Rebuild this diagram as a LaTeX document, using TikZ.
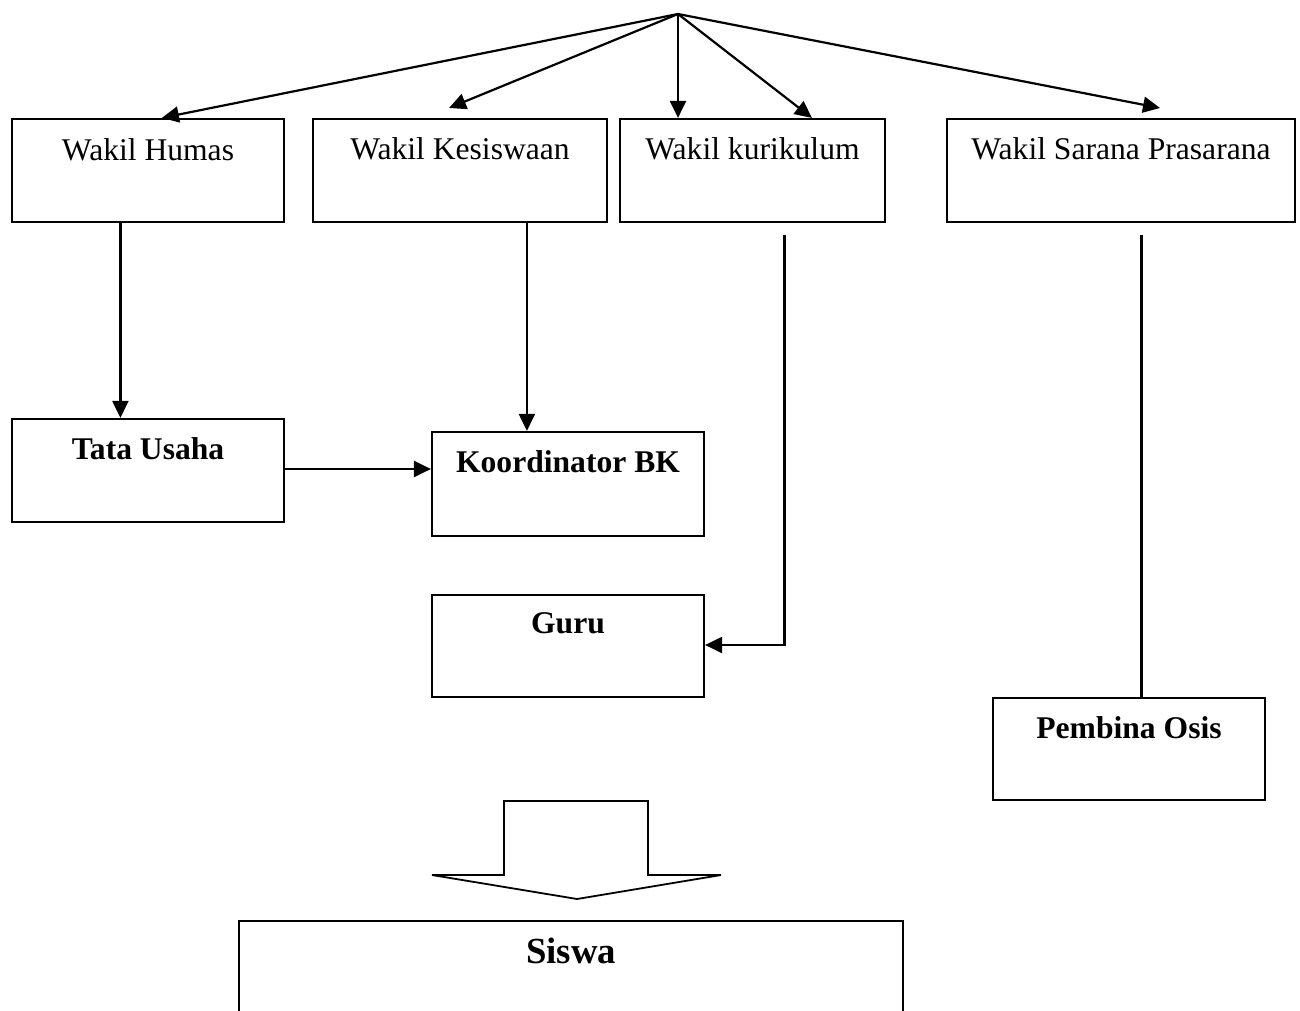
\documentclass[tikz,border=0pt]{standalone}
\usepackage{fontspec}
\setmainfont{Liberation Serif}
\usetikzlibrary{calc,arrows.meta}

\begin{document}
\begin{tikzpicture}[
  x=0.5pt, y=-0.5pt,
  line width=1.1pt,
  box/.style={draw, rectangle, inner sep=0pt, line width=1.1pt},
  lbl/.style={anchor=base, inner sep=0pt, font=\fontsize{15.8pt}{18pt}\selectfont},
  blbl/.style={lbl, font=\fontsize{15.8pt}{18pt}\selectfont\bfseries},
  arr/.style={-{Triangle[length=8.5pt,width=8pt]}},
]
\useasboundingbox (0,0) rectangle (1300,1011);
\clip (0,0) rectangle (1300,1011);

% --- top row: the four deputies
\node[box, minimum width=136pt, minimum height=51.5pt] (humas)  at (148,170.5)  {};
\node[box, minimum width=147pt, minimum height=51.5pt] (kesis)  at (460,170.5)  {};
\node[box, minimum width=132.5pt, minimum height=51.5pt] (kurik) at (752.5,170.5) {};
\node[box, minimum width=174pt, minimum height=51.5pt] (sarana) at (1121,170.5) {};

\node[lbl] (humasT)  at ($(humas.north)+(0,43)$)  {Wakil Humas};
\node[lbl] (kesisT)  at ($(kesis.north)+(0,42)$)  {Wakil Kesiswaan};
\node[lbl] (kurikT)  at ($(kurik.north)+(0,42)$)  {Wakil kurikulum};
\node[lbl] (saranaT) at ($(sarana.north)+(0,42)$) {Wakil Sarana Prasarana};

% --- lower units
\node[box, minimum width=136pt, minimum height=51.5pt] (tata)  at (148,470.5) {};
\node[box, minimum width=136pt, minimum height=52pt]   (koord) at (568,484)   {};
\node[box, minimum width=136pt, minimum height=51pt]   (guru)  at (568,646)   {};
\node[box, minimum width=136pt, minimum height=51pt]   (pemb)  at (1129,749)  {};
\node[box, minimum width=332pt, minimum height=60pt]   (siswa) at (571,981)   {};

\node[blbl] (tataT)  at ($(tata.north)+(0,42)$)  {Tata Usaha};
\node[blbl] (koordT) at ($(koord.north)+(0,42)$) {Koordinator BK};
\node[blbl] (guruT)  at ($(guru.north)+(0,40)$)  {Guru};
\node[blbl] (pembT)  at ($(pemb.north)+(0,42)$)  {Pembina Osis};
\node[lbl, font=\fontsize{18.4pt}{21pt}\selectfont\bfseries] (siswaT) at ($(siswa.north)+(0,44)$) {Siswa};

% --- fan of arrows from the head
\coordinate (head) at (678,14);
\coordinate (kesisTip)  at (449,108);
\coordinate (saranaTip) at (1160,108);
\draw[arr] (head) -- ($(humas.north west)+(151,0)$);
\draw[arr] (head) -- (kesisTip);
\draw[arr] (head) -- (head |- kurik.north);
\draw[arr] (head) -- ($(kurik.north west)+(193,0)$);
\draw[arr] (head) -- (saranaTip);

% --- vertical links
\coordinate (humasOut) at ($(humas.south west)+(109.5,0)$);
\coordinate (kesisOut) at ($(kesis.south west)+(215,0)$);
\draw[arr] (humasOut) -- (humasOut |- tata.north);
\draw[arr] (kesisOut) -- (kesisOut |- koord.north);
\draw[arr] (tata.east |- 0,469) -- (koord.west |- 0,469);

\coordinate (kurikStart)  at (784.5,235);
\coordinate (saranaStart) at (1141.5,235);
\draw[arr] (kurikStart) |- (guru.east |- 0,645);
\draw (saranaStart) -- (saranaStart |- pemb.north);

% --- block arrow towards the students
\draw[line width=0.9pt, line join=miter]
  (504,801) -- (648,801) -- (648,875) -- (721,875) -- (577,899)
  -- (432,875) -- (504,875) -- cycle;
\end{tikzpicture}
\end{document}
